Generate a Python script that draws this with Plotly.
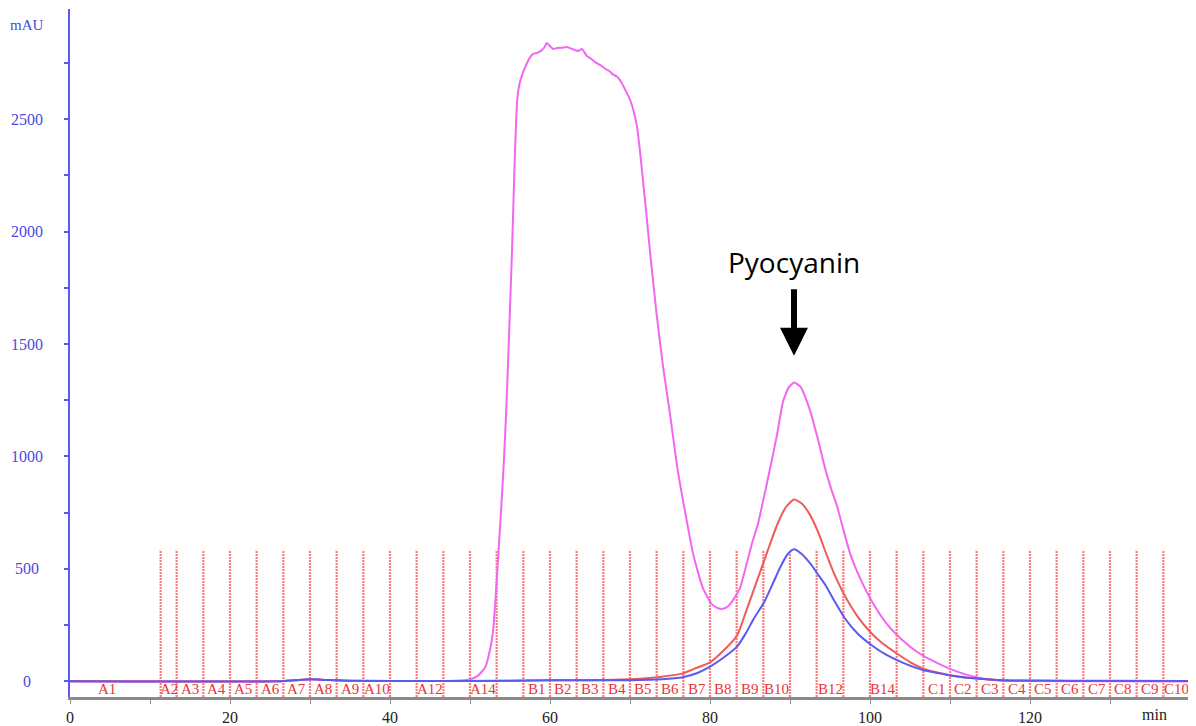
import plotly.graph_objects as go

# ---------------- data ----------------
t_mag = [0, 10, 26, 28, 30, 32, 35, 40, 46, 48, 50, 51, 51.9, 52.5, 52.9, 53.2, 53.5, 53.9,
         54.25, 54.5, 54.75, 55.0, 55.25, 55.45, 55.6, 55.75, 55.9, 56.2, 56.6, 57.0, 57.5,
         57.9, 58.4, 58.9, 59.3, 59.6, 60.0, 60.4, 60.9, 61.5, 62.1, 62.8, 63.5, 64.0, 64.6,
         65.1, 65.6, 66.3, 67.1, 67.5, 67.9, 68.4, 68.9, 69.4, 70.0, 70.5, 70.9, 71.3, 71.7,
         72.1, 72.5, 73.3, 74.1, 75.0, 75.9, 76.9, 77.9, 79.1, 80.2, 81.0, 81.6, 82.3, 82.9,
         83.75, 84.6, 85.3, 86.0, 86.75, 87.5, 88.4, 89.1, 89.8, 90.5, 91.3, 92.5, 93.5, 94.4,
         95.2, 95.9, 96.7, 97.5, 98.1, 99.0, 100.25, 102, 104, 106, 108, 110, 113, 116, 120,
         130, 140]
v_mag = [0, 0, 0, 4, 9, 6, 2, 1, 1, 2, 8, 25, 62, 140, 230, 370, 540, 770,
         990, 1180, 1408, 1660, 1912, 2150, 2330, 2470, 2587, 2660, 2706, 2740, 2775,
         2790, 2795, 2805, 2820, 2839, 2825, 2812, 2817, 2818, 2821, 2812, 2803, 2812, 2781,
         2770, 2755, 2740, 2720, 2712, 2698, 2689, 2665, 2631, 2587, 2530, 2460, 2340, 2200,
         2060, 1912, 1642, 1408, 1188, 954, 751, 565, 415, 344, 325, 322, 335, 362,
         415, 525, 620, 700, 820, 945, 1100, 1240, 1305, 1329, 1310, 1205, 1075, 945,
         850, 777, 670, 570, 512, 440, 355, 260, 185, 128, 88, 55, 20, 5, 1,
         0, 0]

t_red = [0, 26, 28, 30, 32, 35, 45, 55, 60, 65, 68, 70, 72, 74, 76.6, 78, 80, 81.5, 83.4,
         84.5, 85.5, 86.5, 87.5, 88.5, 89.5, 90.5, 91.5, 92.5, 93.5, 94.5, 95.5, 96.5, 97.5,
         98.5, 100, 101.5, 103.5, 105, 106.6, 108, 110, 113, 116, 120, 130, 140]
v_red = [0, 0, 4, 9, 6, 2, 1, 2, 4, 5, 7, 9, 13, 20, 35, 55, 84, 130, 205,
         310, 410, 510, 610, 705, 775, 808, 790, 740, 665, 570, 480, 405, 340,
         285, 220, 170, 120, 85, 57, 42, 27, 13, 5, 2, 1, 0]

t_blue = [0, 26, 28, 30, 32, 35, 45, 55, 60, 65, 70, 74, 76.6, 78.5, 80, 81.5, 83.4, 84.5,
          85.5, 86.75, 87.8, 88.75, 89.7, 90.5, 91.5, 92.5, 93.5, 94.5, 95.5, 96.9, 98.5,
          100.25, 102, 104, 106.6, 108.75, 110, 113, 116, 120, 130, 140]
v_blue = [0, 0, 4, 9, 6, 2, 1, 2, 4, 5, 5, 9, 18, 38, 65, 100, 155, 215,
          280, 350, 430, 505, 565, 587, 565, 525, 475, 424, 360, 278, 210,
          159, 118, 84, 50, 35, 26, 13, 6, 3, 2, 1]

frac_edges = [-2.0, 11.33, 13.33, 16.67, 20.0, 23.33, 26.67, 30.0, 33.33, 36.67, 40.0,
              43.33, 46.67, 50.0, 53.33, 56.67, 60.0, 63.33, 66.67, 70.0, 73.33, 76.67,
              80.0, 83.33, 86.67, 90.0, 93.33, 96.67, 100.0, 103.33, 106.67, 110.0, 113.33,
              116.67, 120.0, 123.33, 126.67, 130.0, 133.33, 136.67, 140.0]
frac_labels = ["A1", "A2", "A3", "A4", "A5", "A6", "A7", "A8", "A9", "A10", "", "A12", "",
               "A14", "", "B1", "B2", "B3", "B4", "B5", "B6", "B7", "B8", "B9", "B10", "",
               "B12", "", "B14", "", "C1", "C2", "C3", "C4", "C5", "C6", "C7", "C8", "C9",
               "C10"]
frac_line_top = 585
frac_label_y = -35

y_ticks = [0, 500, 1000, 1500, 2000, 2500]
x_ticks = [0, 10, 20, 30, 40, 50, 60, 70, 80, 90, 100, 110, 120, 130]
x_ticktext = ["0", "", "20", "", "40", "", "60", "", "80", "", "100", "", "120", ""]

peak_label = "Pyocyanin"
peak_time = 90.5

# ---------------- styling ----------------
MAG = "#f266f2"
RED = "#f05a5a"
BLUE = "#5a5aef"
FRAC = "rgba(255,90,90,0.8)"
SERIF = "Liberation Serif"
Y_MIN, Y_MAX = -70, 2990

fig = go.Figure()

# fraction marker lines
lx, ly = [], []
for e in frac_edges[1:-1]:
    lx += [e, e, None]
    ly += [Y_MIN, frac_line_top, None]
fig.add_trace(go.Scatter(x=lx, y=ly, mode="lines", hoverinfo="skip",
                         line=dict(color=FRAC, width=2.2, dash="2px,1px"),
                         showlegend=False))

fig.add_trace(go.Scatter(x=t_mag, y=v_mag, mode="lines",
                         line=dict(color=MAG, width=2, shape="spline", smoothing=0.5),
                         showlegend=False))
fig.add_trace(go.Scatter(x=t_red, y=v_red, mode="lines",
                         line=dict(color=RED, width=2, shape="spline", smoothing=0.6),
                         showlegend=False))
fig.add_trace(go.Scatter(x=t_blue, y=v_blue, mode="lines",
                         line=dict(color=BLUE, width=2, shape="spline", smoothing=0.6),
                         showlegend=False))

annotations = []
# fraction labels
for i, lab in enumerate(frac_labels):
    if not lab:
        continue
    mid = (frac_edges[i] + frac_edges[i + 1]) / 2
    annotations.append(dict(x=mid, y=frac_label_y, xref="x", yref="y", text=lab,
                            showarrow=False, xanchor="center", yanchor="middle",
                            font=dict(family=SERIF, size=15, color="#e83535")))
# y tick labels (centred, as in the reference)
for v in y_ticks:
    annotations.append(dict(x=0, y=v, xref="paper", yref="y", text=str(v), xshift=-43,
                            showarrow=False, xanchor="center", yanchor="middle",
                            font=dict(family=SERIF, size=16, color="#4a4ae0")))
annotations.append(dict(x=0, y=1, xref="paper", yref="paper", text="mAU", xshift=-43,
                        yshift=-16, showarrow=False, xanchor="center", yanchor="middle",
                        font=dict(family=SERIF, size=15, color="#4a4ae0")))
annotations.append(dict(x=135.5, y=0, xref="x", yref="paper", text="min", yshift=-17,
                        showarrow=False, xanchor="center", yanchor="middle",
                        font=dict(family=SERIF, size=16, color="#222222")))
# Pyocyanin label and arrow
annotations.append(dict(x=peak_time, y=1863, xref="x", yref="y", text=peak_label,
                        showarrow=False, xanchor="center", yanchor="middle",
                        font=dict(family="Open Sans", size=28, color="black")))
annotations.append(dict(x=peak_time, y=1448, xref="x", yref="y", text="",
                        showarrow=True, ax=0, ay=-68, arrowhead=2, arrowwidth=6,
                        arrowsize=0.93, arrowcolor="black", standoff=0))

# the page body has an 8px margin, so the figure is sized/positioned to compensate
fig.update_layout(
    width=1188, height=718,
    margin=dict(l=62, r=0, t=1, b=24),
    paper_bgcolor="white", plot_bgcolor="white",
    annotations=annotations,
    xaxis=dict(range=[0, 140.75], showgrid=False, zeroline=False,
               showline=True, linecolor="#8a8a8a", linewidth=2.5,
               ticks="outside", ticklen=4, tickcolor="#8a8a8a", tickwidth=1,
               tickvals=x_ticks, ticktext=x_ticktext,
               tickfont=dict(family=SERIF, size=16, color="#222222")),
    yaxis=dict(range=[Y_MIN, Y_MAX], showgrid=False, zeroline=False,
               showline=True, linecolor=BLUE, linewidth=2,
               ticks="outside", ticklen=4, tickcolor=BLUE, tickwidth=1.5,
               tick0=0, dtick=250, showticklabels=False),
)

fig.write_html("out.html")
